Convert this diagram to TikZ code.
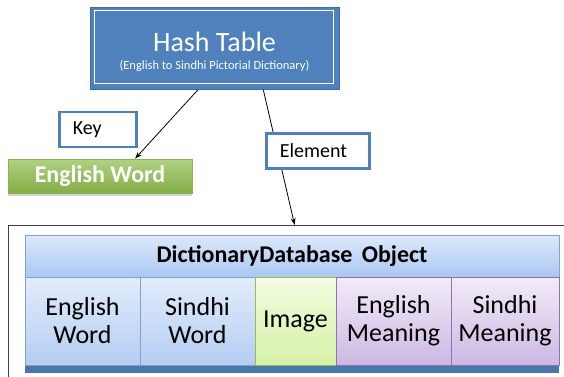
\documentclass[tikz,border=0pt]{standalone}
\usepackage{fontspec}
\setmainfont{Carlito}
\usetikzlibrary{calc,arrows.meta,shadows}
\pgfdeclarelayer{bg}
\pgfsetlayers{bg,main}

\definecolor{hashblue}{HTML}{4F81BD}
\definecolor{hashedge}{HTML}{3F6EA6}
\definecolor{labeledge}{HTML}{4F81BD}
\definecolor{greentop}{HTML}{B0D283}
\definecolor{greenbot}{HTML}{84AD45}
\definecolor{greenedge}{HTML}{8FB055}
\definecolor{hdrtop}{HTML}{DDE9FB}
\definecolor{hdrbot}{HTML}{A9C7F2}
\definecolor{bluetop}{HTML}{E2ECFC}
\definecolor{bluebot}{HTML}{B5CDF2}
\definecolor{blueedge}{HTML}{7EA3D2}
\definecolor{limetop}{HTML}{F4FCE2}
\definecolor{limebot}{HTML}{D4F2A6}
\definecolor{limeedge}{HTML}{9BBB59}
\definecolor{violettop}{HTML}{F2EBF8}
\definecolor{violetbot}{HTML}{CCB8E2}
\definecolor{violetedge}{HTML}{8D74AE}
\definecolor{barblue}{HTML}{4A76AA}
\definecolor{frameline}{HTML}{404040}

\tikzset{
  labelbox/.style={draw=labeledge, line width=2.6pt, fill=white, minimum height=35pt,
    inner xsep=12pt, anchor=west, align=left, font=\fontsize{20}{22}\selectfont, text=black},
  cellbase/.style={minimum height=88pt, inner sep=0pt, align=center,
    font=\fontsize{26}{28}\selectfont, line width=0.8pt},
  bluecell/.style={cellbase, draw=blueedge, top color=bluetop, bottom color=bluebot},
  limecell/.style={cellbase, draw=limeedge, top color=limetop, bottom color=limebot},
  violetcell/.style={cellbase, draw=violetedge, top color=violettop, bottom color=violetbot},
  link/.style={draw=black, line width=0.8pt, -{Stealth[length=7pt,width=5pt]}}
}

\begin{document}
\begin{tikzpicture}[x=1pt,y=-1pt]
\useasboundingbox (0,0) rectangle (564,376);

% hash table title block
\node[fill=hashblue, draw=hashedge, line width=0.8pt, minimum width=249pt, minimum height=82pt,
      inner sep=0pt] (hash) at (214.5,48) {};
\draw[white, line width=1.6pt] ($(hash.north west)+(5,4)$) rectangle ($(hash.south east)+(-6,-6)$);
\node[text=white, inner sep=0pt, font=\fontsize{28}{30}\selectfont] (title) at ($(hash.center)+(0,-6)$) {Hash Table};
\node[text=white, inner sep=0pt, font=\fontsize{12.5}{14}\selectfont] (subtitle) at ($(hash.center)+(0,18)$)
  {(English to Sindhi Pictorial Dictionary)};

% key and its target
\node[labelbox, minimum width=77pt, text width=50pt] (key) at (58,129.5) {Key};
\node[top color=greentop, bottom color=greenbot, draw=greenedge, line width=0.8pt,
      minimum width=184pt, minimum height=34pt, inner sep=0pt, text=white,
      font=\bfseries\fontsize{24}{26}\selectfont,
      drop shadow={shadow xshift=0pt, shadow yshift=-3pt, opacity=0.35}] (eng) at (100,176) {English Word};

% element label
\node[labelbox, minimum width=103pt, text width=76pt] (elem) at (265,151) {Element};

% object frame
\node[draw=frameline, line width=1.3pt, minimum width=572pt, minimum height=170pt,
      anchor=north west, inner sep=0pt] (frame) at (8,225) {};

% dictionary database object
\node[top color=hdrtop, bottom color=hdrbot, draw=blueedge, line width=0.8pt,
      minimum width=534pt, minimum height=42pt, inner sep=0pt,
      font=\bfseries\fontsize{24}{26}\selectfont] (hdr) at (292,256) {DictionaryDatabase\, Object};
\node[fill=barblue, minimum width=534pt, minimum height=8pt, inner sep=0pt] (bar) at (292,369) {};
\node[bluecell, minimum width=115pt] (c1) at (82.5,321) {English\\Word};
\node[bluecell, minimum width=115pt] (c2) at (197.5,321) {Sindhi\\Word};
\node[limecell, minimum width=81pt] (c3) at (295.5,321) {Image};
\node[violetcell, minimum width=115pt] (c4) at (393.5,321) {English\\Meaning};
\node[violetcell, minimum width=108pt] (c5) at (505,321) {Sindhi\\Meaning};

% connectors run beneath the label boxes
\begin{pgfonlayer}{bg}
  \draw[link] ($(hash.south west)!0.435!(hash.south east)$) -- ($(eng.north west)!0.69!(eng.north east)$);
  \draw[link] ($(hash.south west)!0.695!(hash.south east)$) -- ($(frame.north west)!0.5!(frame.north east)$);
\end{pgfonlayer}
\end{tikzpicture}
\end{document}
